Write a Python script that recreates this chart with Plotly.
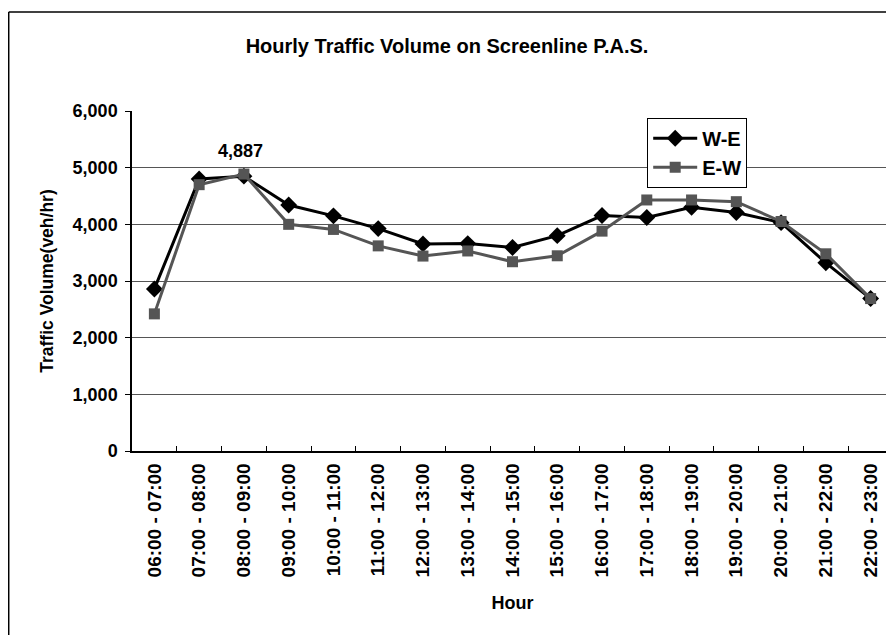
import plotly.graph_objects as go

hours = ["06:00 - 07:00", "07:00 - 08:00", "08:00 - 09:00", "09:00 - 10:00",
         "10:00 - 11:00", "11:00 - 12:00", "12:00 - 13:00", "13:00 - 14:00",
         "14:00 - 15:00", "15:00 - 16:00", "16:00 - 17:00", "17:00 - 18:00",
         "18:00 - 19:00", "19:00 - 20:00", "20:00 - 21:00", "21:00 - 22:00",
         "22:00 - 23:00"]
we = [2860, 4800, 4850, 4340, 4150, 3925, 3655, 3660, 3590, 3800, 4155,
      4120, 4300, 4210, 4030, 3320, 2690]
ew = [2420, 4700, 4887, 4000, 3910, 3620, 3440, 3530, 3340, 3445, 3880,
      4430, 4430, 4400, 4050, 3480, 2690]
yticks = [0, 1000, 2000, 3000, 4000, 5000, 6000]
peak_label = "4,887"

FONT = "Liberation Sans, Arial, sans-serif"

fig = go.Figure()
fig.add_trace(go.Scatter(
    x=hours, y=we, name="W-E", mode="lines+markers",
    line=dict(color="#000000", width=3),
    marker=dict(symbol="diamond", size=13, color="#000000"),
))
fig.add_trace(go.Scatter(
    x=hours, y=ew, name="E-W", mode="lines+markers",
    line=dict(color="#555555", width=3),
    marker=dict(symbol="square", size=11, color="#555555"),
))

fig.add_annotation(
    x=hours[2], y=max(ew), text=peak_label, showarrow=False,
    yanchor="bottom", yshift=11, xshift=-3,
    font=dict(family=FONT, size=18, color="#000000", weight="bold"),
)

# outer chart border (left and top edges; the rest falls outside the picture)
fig.add_shape(type="line", xref="paper", yref="paper",
              x0=-0.162, x1=-0.162, y0=-0.6, y1=1.291,
              line=dict(color="#000000", width=1.5), layer="below")
fig.add_shape(type="line", xref="paper", yref="paper",
              x0=-0.162, x1=1.1, y0=1.291, y1=1.291,
              line=dict(color="#000000", width=1.5), layer="below")

fig.update_layout(
    width=886, height=627,
    margin=dict(l=124, r=1, t=103, b=184, autoexpand=False),
    paper_bgcolor="white", plot_bgcolor="white",
    title=dict(text="Hourly Traffic Volume on Screenline P.A.S.",
               x=439 / 886, xref="container", xanchor="center",
               y=1 - 38 / 627, yref="container", yanchor="middle",
               font=dict(family=FONT, size=20, color="#000000", weight="bold")),
    font=dict(family=FONT, color="#000000"),
    legend=dict(x=0.677, y=0.98, xanchor="left", yanchor="top",
                bgcolor="white", bordercolor="#000000", borderwidth=1,
                font=dict(family=FONT, size=20, color="#000000", weight="bold"),
                itemwidth=44, tracegroupgap=0),
    showlegend=True,
)
fig.update_xaxes(
    type="category", tickangle=-90, automargin=False,
    tickfont=dict(family=FONT, size=19, color="#000000", weight="bold"),
    showline=True, linecolor="#000000", linewidth=1.5, mirror=False,
    ticks="inside", ticklen=5, tickcolor="#000000", tickson="boundaries",
    ticklabelstandoff=3,
    showgrid=False, range=[-0.5, 16.5],
    title=dict(text="Hour", font=dict(family=FONT, size=18, color="#000000", weight="bold"),
               standoff=20),
)
fig.update_yaxes(
    range=[0, 6000], tickvals=yticks, tickformat=",d", automargin=False,
    tickfont=dict(family=FONT, size=18, color="#000000", weight="bold"),
    showline=True, linecolor="#000000", linewidth=1.5,
    ticks="outside", ticklen=5, tickcolor="#000000", ticklabelstandoff=4,
    showgrid=True, gridcolor="#555555", gridwidth=1,
    zeroline=False,
    title=dict(text="Traffic Volume(veh/hr)",
               font=dict(family=FONT, size=17.5, color="#000000", weight="bold"), standoff=14),
)

fig.write_html("out.html")
